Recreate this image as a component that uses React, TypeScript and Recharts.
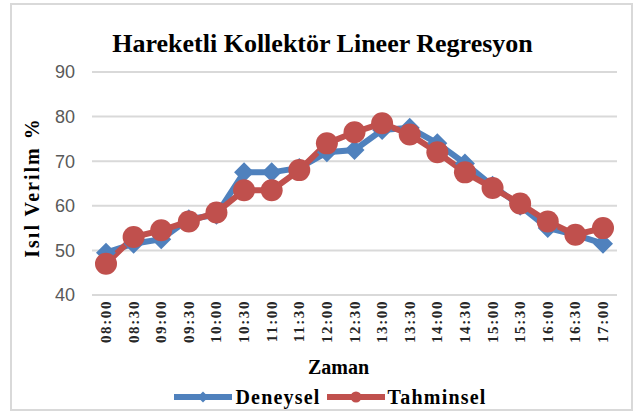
import { LineChart, Line, XAxis, YAxis, CartesianGrid, Legend } from 'recharts'

const times = [
  '08:00', '08:30', '09:00', '09:30', '10:00', '10:30', '11:00', '11:30', '12:00', '12:30',
  '13:00', '13:30', '14:00', '14:30', '15:00', '15:30', '16:00', '16:30', '17:00',
]
const deneysel = [49.5, 51.5, 52.5, 57, 58, 67.5, 67.5, 68.5, 72, 72.5, 77, 77.5, 74, 69.5, 64.5, 60, 55, 53.5, 51.5]
const tahminsel = [47, 53, 54.5, 56.5, 58.5, 63.5, 63.5, 68, 74, 76.5, 78.5, 76, 72, 67.5, 64, 60.5, 56.5, 53.5, 55]
const yTicks = [40, 50, 60, 70, 80, 90]

const BLUE = '#4F81BD'
const RED = '#C0504D'
const SERIF = '"Liberation Serif", "Times New Roman", serif'

const data = times.map((t, i) => ({ time: t, deneysel: deneysel[i], tahminsel: tahminsel[i] }))

function Diamond({ cx, cy, half }: any) {
  if (cx == null || cy == null) return null
  const s = half ?? 10
  return <path d={`M${cx},${cy - s}L${cx + s},${cy}L${cx},${cy + s}L${cx - s},${cy}Z`} fill={BLUE} />
}

function RedDot({ cx, cy, radius }: any) {
  if (cx == null || cy == null) return null
  return <circle cx={cx} cy={cy} r={radius ?? 11} fill={RED} />
}

function TimeTick({ x, y, payload }: any) {
  return (
    <g transform={`translate(${x},${y - 3}) rotate(-90)`}>
      <text x={0} y={0} dy={5} textAnchor="end" fontFamily={SERIF} fontSize={15} fontWeight="bold" letterSpacing={1.6} fill="#262626">
        {payload.value}
      </text>
    </g>
  )
}

function LegendContent() {
  const item = (color: string, label: string, marker: 'diamond' | 'circle') => (
    <div style={{ display: 'flex', alignItems: 'center', marginRight: 6 }}>
      <svg width={58} height={14}>
        <line x1={0} y1={7} x2={58} y2={7} stroke={color} strokeWidth={6} />
        {marker === 'diamond' ? <Diamond cx={29} cy={7} half={5.5} /> : <RedDot cx={29} cy={7} radius={5.5} />}
      </svg>
      <span style={{ fontFamily: SERIF, fontWeight: 'bold', fontSize: 20, letterSpacing: 1.2, color: '#000', marginLeft: 3 }}>{label}</span>
    </div>
  )
  return (
    <div style={{ display: 'flex', justifyContent: 'center', height: 24, alignItems: 'center', paddingLeft: 50 }}>
      {item(BLUE, 'Deneysel', 'diamond')}
      {item(RED, 'Tahminsel', 'circle')}
    </div>
  )
}

export default function App() {
  return (
    <div style={{ position: 'absolute', left: 0, top: 0, width: 641, height: 416, background: '#fff' }}>
      <div
        style={{
          position: 'absolute', left: 10, top: 3, width: 623, height: 408,
          border: '2px solid #d9d9d9', boxSizing: 'border-box',
        }}
      />
      <div
        style={{
          position: 'absolute', left: 2, top: 29, width: 641, textAlign: 'center',
          fontFamily: SERIF, fontWeight: 'bold', fontSize: 26, color: '#000', lineHeight: '30px',
        }}
      >
        Hareketli Kollektör Lineer Regresyon
      </div>
      <LineChart width={641} height={416} data={data} margin={{ top: 72, right: 24, bottom: 7, left: 0 }}>
        <CartesianGrid vertical={false} stroke="#d9d9d9" strokeWidth={2} />
        <XAxis
          dataKey="time"
          interval={0}
          axisLine={false}
          tickLine={false}
          height={90}
          padding={{ left: 14, right: 14 }}
          tick={<TimeTick />}
          label={({ viewBox }: any) => (
            <text
              x={viewBox.x + viewBox.width / 2 - 16}
              y={viewBox.y + 79}
              textAnchor="middle"
              fontFamily={SERIF}
              fontWeight="bold"
              fontSize={20}
              fill="#000"
            >
              Zaman
            </text>
          )}
        />
        <YAxis
          domain={[40, 90]}
          ticks={yTicks}
          width={92}
          axisLine={false}
          tickLine={false}
          tickMargin={11}
          tick={{ fontFamily: '"Liberation Sans", Arial, sans-serif', fontSize: 18, fill: '#595959' }}
          label={({ viewBox }: any) => (
            <text
              transform={`translate(${viewBox.x + 32},${viewBox.y + viewBox.height / 2 + 4}) rotate(-90)`}
              textAnchor="middle"
              dominantBaseline="central"
              fontFamily={SERIF}
              fontWeight="bold"
              fontSize={20}
              letterSpacing={2}
              fill="#000"
            >
              Isıl Verilm %
            </text>
          )}
        />
        <Legend verticalAlign="bottom" content={<LegendContent />} />
        <Line
          dataKey="deneysel"
          name="Deneysel"
          stroke={BLUE}
          strokeWidth={6}
          dot={<Diamond />}
          activeDot={false}
          isAnimationActive={false}
        />
        <Line
          dataKey="tahminsel"
          name="Tahminsel"
          stroke={RED}
          strokeWidth={6}
          dot={<RedDot />}
          activeDot={false}
          isAnimationActive={false}
        />
      </LineChart>
    </div>
  )
}
